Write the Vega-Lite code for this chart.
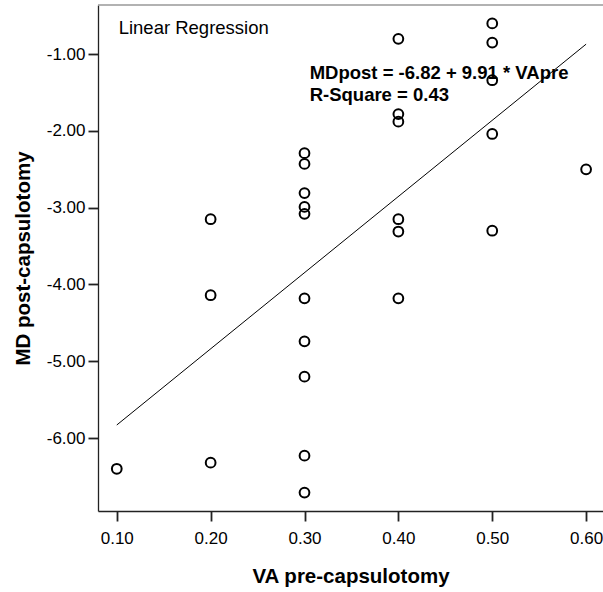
{
  "$schema": "https://vega.github.io/schema/vega-lite/v6.json",
  "width": 505,
  "height": 506,
  "autosize": {"type": "none"},
  "padding": {"left": 98, "top": 5, "right": 0, "bottom": 81},
  "background": "white",
  "config": {
    "view": {"stroke": null},
    "font": "Liberation Sans",
    "axis": {"grid": false, "domainColor": "#222", "tickColor": "#222", "labelColor": "black", "titleColor": "black", "labelFont": "Liberation Sans", "titleFont": "Liberation Sans", "labelFontSize": 17, "labelFontWeight": "normal", "titleFontSize": 20.5, "titleFontWeight": "bold", "tickSize": 10, "domainWidth": 1.3, "tickWidth": 1.8}
  },
  "datasets": {
    "points": [
      {"va": 0.1, "md": -6.40},
      {"va": 0.2, "md": -3.15},
      {"va": 0.2, "md": -4.14},
      {"va": 0.2, "md": -6.32},
      {"va": 0.3, "md": -2.29},
      {"va": 0.3, "md": -2.43},
      {"va": 0.3, "md": -2.81},
      {"va": 0.3, "md": -2.99},
      {"va": 0.3, "md": -3.08},
      {"va": 0.3, "md": -4.18},
      {"va": 0.3, "md": -4.74},
      {"va": 0.3, "md": -5.20},
      {"va": 0.3, "md": -6.23},
      {"va": 0.3, "md": -6.71},
      {"va": 0.4, "md": -0.80},
      {"va": 0.4, "md": -1.78},
      {"va": 0.4, "md": -1.88},
      {"va": 0.4, "md": -3.15},
      {"va": 0.4, "md": -3.31},
      {"va": 0.4, "md": -4.18},
      {"va": 0.5, "md": -0.60},
      {"va": 0.5, "md": -0.85},
      {"va": 0.5, "md": -1.34},
      {"va": 0.5, "md": -2.04},
      {"va": 0.5, "md": -3.30},
      {"va": 0.6, "md": -2.50}
    ],
    "fit": [
      {"va": 0.1, "md": -5.83},
      {"va": 0.6, "md": -0.87}
    ],
    "title": [
      {"va": 0.102, "md": -0.66, "text": "Linear Regression"}
    ],
    "eq": [
      {"va": 0.3055, "md": -1.25, "text": "MDpost = -6.82 + 9.91 * VApre"},
      {"va": 0.3055, "md": -1.53, "text": "R-Square = 0.43"}
    ]
  },
  "layer": [
    {
      "data": {"name": "points"},
      "mark": {"type": "point", "shape": "circle", "filled": false, "color": "black", "size": 95, "strokeWidth": 2, "opacity": 1},
      "encoding": {
        "x": {"field": "va", "type": "quantitative", "scale": {"domain": [0.08, 0.618], "nice": false, "zero": false},
          "axis": {"values": [0.1, 0.2, 0.3, 0.4, 0.5, 0.6], "format": ".2f", "title": "VA pre-capsulotomy", "labelPadding": 9, "titlePadding": 20}},
        "y": {"field": "md", "type": "quantitative", "scale": {"domain": [-6.95, -0.36], "nice": false, "zero": false},
          "axis": {"values": [-6, -5, -4, -3, -2, -1], "format": ".2f", "labelExpr": "replace(datum.label, '\u2212', '-')", "title": "MD post-capsulotomy", "labelPadding": 3, "titlePadding": 13}}
      }
    },
    {
      "data": {"name": "fit"},
      "mark": {"type": "line", "color": "black", "strokeWidth": 1},
      "encoding": {
        "x": {"field": "va", "type": "quantitative"},
        "y": {"field": "md", "type": "quantitative"}
      }
    },
    {
      "data": {"name": "title"},
      "mark": {"type": "text", "align": "left", "baseline": "middle", "fontSize": 18.5, "color": "black"},
      "encoding": {
        "x": {"field": "va", "type": "quantitative"},
        "y": {"field": "md", "type": "quantitative"},
        "text": {"field": "text"}
      }
    },
    {
      "data": {"name": "eq"},
      "mark": {"type": "text", "align": "left", "baseline": "middle", "fontSize": 18.5, "fontWeight": "bold", "color": "black"},
      "encoding": {
        "x": {"field": "va", "type": "quantitative"},
        "y": {"field": "md", "type": "quantitative"},
        "text": {"field": "text"}
      }
    },
    {
      "data": {"values": [{}]},
      "mark": {"type": "rule", "color": "#999", "strokeWidth": 1.5},
      "encoding": {
        "y": {"datum": -0.36, "type": "quantitative"}
      }
    }
  ]
}
